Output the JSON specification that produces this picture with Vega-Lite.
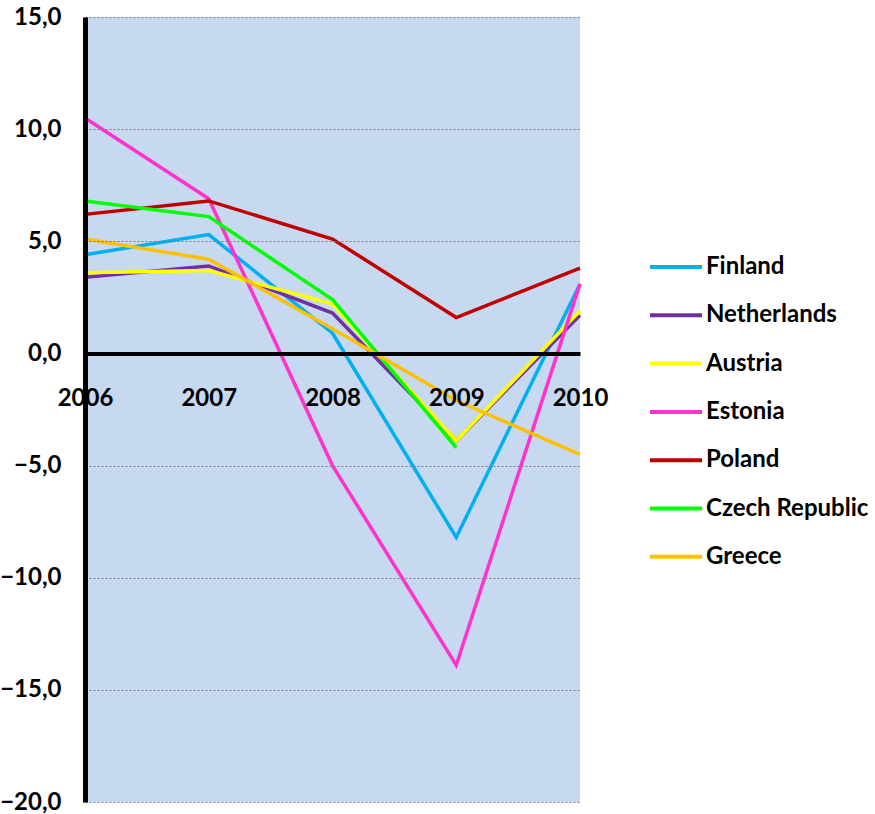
{
  "$schema": "https://vega.github.io/schema/vega-lite/v6.json",
  "width": 495,
  "height": 785,
  "autosize": {"type": "none"},
  "padding": {"left": 85, "top": 17, "right": 295, "bottom": 12},
  "background": "white",
  "config": {"view": {"stroke": null, "fill": "#C6D9F0"}, "font": "Lato"},
  "data": {
    "values": [
      {"country": "Finland", "year": "2006", "value": 4.4},
      {"country": "Finland", "year": "2007", "value": 5.3},
      {"country": "Finland", "year": "2008", "value": 0.9},
      {"country": "Finland", "year": "2009", "value": -8.2},
      {"country": "Finland", "year": "2010", "value": 3.1},
      {"country": "Netherlands", "year": "2006", "value": 3.4},
      {"country": "Netherlands", "year": "2007", "value": 3.9},
      {"country": "Netherlands", "year": "2008", "value": 1.8},
      {"country": "Netherlands", "year": "2009", "value": -3.9},
      {"country": "Netherlands", "year": "2010", "value": 1.7},
      {"country": "Austria", "year": "2006", "value": 3.6},
      {"country": "Austria", "year": "2007", "value": 3.7},
      {"country": "Austria", "year": "2008", "value": 2.2},
      {"country": "Austria", "year": "2009", "value": -3.9},
      {"country": "Austria", "year": "2010", "value": 1.9},
      {"country": "Estonia", "year": "2006", "value": 10.5},
      {"country": "Estonia", "year": "2007", "value": 6.9},
      {"country": "Estonia", "year": "2008", "value": -5.0},
      {"country": "Estonia", "year": "2009", "value": -13.9},
      {"country": "Estonia", "year": "2010", "value": 3.1},
      {"country": "Poland", "year": "2006", "value": 6.2},
      {"country": "Poland", "year": "2007", "value": 6.8},
      {"country": "Poland", "year": "2008", "value": 5.1},
      {"country": "Poland", "year": "2009", "value": 1.6},
      {"country": "Poland", "year": "2010", "value": 3.8},
      {"country": "Czech Republic", "year": "2006", "value": 6.8},
      {"country": "Czech Republic", "year": "2007", "value": 6.1},
      {"country": "Czech Republic", "year": "2008", "value": 2.4},
      {"country": "Czech Republic", "year": "2009", "value": -4.2},
      {"country": "Greece", "year": "2006", "value": 5.1},
      {"country": "Greece", "year": "2007", "value": 4.2},
      {"country": "Greece", "year": "2008", "value": 1.1},
      {"country": "Greece", "year": "2009", "value": -2.1},
      {"country": "Greece", "year": "2010", "value": -4.5}
    ]
  },
  "mark": {"type": "line", "strokeWidth": 3.5},
  "encoding": {
    "x": {
      "field": "year",
      "type": "ordinal",
      "scale": {"padding": 0},
      "axis": {
        "title": null,
        "labelAngle": 0,
        "offset": -448.6,
        "domainColor": "black",
        "domainWidth": 4,
        "ticks": false,
        "grid": false,
        "labelFont": "Lato",
        "labelFontWeight": "bold",
        "labelFontSize": 24,
        "labelColor": "black",
        "labelPadding": 33,
        "zindex": 1
      }
    },
    "y": {
      "field": "value",
      "type": "quantitative",
      "scale": {"domain": [-20, 15], "nice": false},
      "axis": {
        "title": null,
        "values": [-20, -15, -10, -5, 0, 5, 10, 15],
        "labelExpr": "replace(format(datum.value, '.1f'), '.', ',')",
        "domainColor": "black",
        "domainWidth": 5,
        "ticks": false,
        "grid": true,
        "gridColor": "#7f7f7f",
        "gridDash": [2, 2],
        "gridWidth": 1,
        "labelFont": "Lato",
        "labelFontWeight": "bold",
        "labelFontSize": 24,
        "labelColor": "black",
        "labelPadding": 24,
        "zindex": 1
      }
    },
    "color": {
      "field": "country",
      "type": "nominal",
      "scale": {
        "domain": ["Finland", "Netherlands", "Austria", "Estonia", "Poland", "Czech Republic", "Greece"],
        "range": ["#00B0F0", "#7030A0", "#FFFF00", "#FF33CC", "#C00000", "#00FF00", "#FFC000"]
      },
      "legend": {
        "title": null,
        "orient": "none",
        "legendX": 563,
        "legendY": 222,
        "symbolType": "stroke",
        "symbolSize": 2704,
        "symbolStrokeWidth": 4,
        "labelFont": "Lato",
        "labelFontWeight": "bold",
        "labelFontSize": 24,
        "labelColor": "black",
        "labelOffset": 2,
        "rowPadding": 8.3,
        "labelLimit": 300
      }
    }
  }
}
